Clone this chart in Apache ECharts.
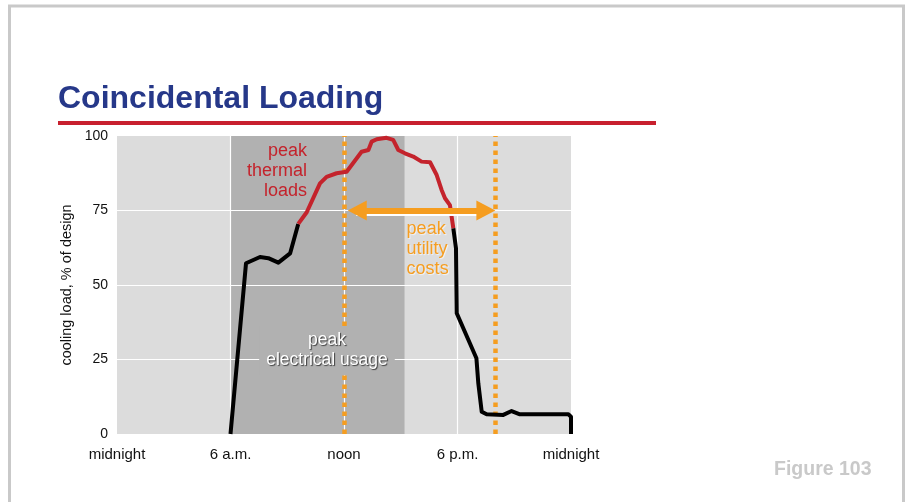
<!DOCTYPE html>
<html>
<head>
<meta charset="utf-8">
<script src="https://cdn.jsdelivr.net/npm/echarts@6/dist/echarts.min.js"></script>
<style>
  html, body { margin: 0; padding: 0; background: #ffffff; }
  #chart { width: 908px; height: 502px; }
</style>
</head>
<body>
<div id="chart"></div>
<script>
// Hour-of-day axis ticks and their labels
const hourTicks = [0, 6, 12, 18, 24];
const hourLabels = ['midnight', '6 a.m.', 'noon', '6 p.m.', 'midnight'];
// Cooling-load axis ticks (% of design)
const loadTicks = [0, 25, 50, 75, 100];

// Cooling load through the day, [hour, % of design]
const morningRise = [
  [6.0, 0], [6.82, 57.3], [7.56, 59.4], [8.0, 59.0], [8.53, 57.5],
  [9.15, 60.6], [9.58, 70.5]
];
const thermalPeak = [
  [9.58, 70.5], [10.03, 74.4], [10.73, 84.1], [11.08, 86.3], [11.61, 87.5],
  [12.14, 88.0], [12.93, 94.7], [13.29, 95.3], [13.46, 98.1], [13.73, 98.9],
  [14.25, 99.4], [14.6, 98.7], [14.87, 95.3], [15.22, 94.2], [15.66, 93.1],
  [16.1, 91.4], [16.55, 91.2], [16.9, 86.9], [17.16, 81.9], [17.34, 79.1],
  [17.6, 76.8], [17.78, 69.0]
];
const eveningFall = [
  [17.78, 69.0], [17.92, 62.3], [17.96, 40.5], [19.0, 25.4], [19.1, 17.0],
  [19.28, 7.5], [19.54, 6.6], [20.42, 6.4], [20.86, 7.7], [21.3, 6.6],
  [23.86, 6.6], [24.0, 5.8], [24.0, 0]
];

// Time windows
const electricalPeakHours = [6, 15.2];
const utilityPeakHours = [12, 20];
const utilityArrowLevel = 75;

const FONT = '"Liberation Sans", Arial, Helvetica, sans-serif';
const ORANGE = '#f59d20';
const RED = '#c4232c';

// inner grid lines (drawn above the shaded windows)
const innerHourTicks = hourTicks.slice(1, -1);
const innerLoadTicks = loadTicks.slice(1, -1);

const chart = echarts.init(document.getElementById('chart'), null, { renderer: 'canvas' });

chart.setOption({
  animation: false,
  backgroundColor: '#ffffff',
  title: [
    {
      text: 'Coincidental Loading',
      left: 53,
      top: 78,
      textStyle: { fontFamily: FONT, fontSize: 32, fontWeight: 'bold', color: '#263889' }
    },
    {
      text: 'Figure 103',
      left: 769,
      top: 455,
      textStyle: { fontFamily: FONT, fontSize: 19.5, fontWeight: 'bold', color: '#c9c9c9' }
    }
  ],
  graphic: [
    {
      type: 'rect',
      shape: { x: 9.5, y: 6, width: 894, height: 520 },
      style: { fill: 'none', stroke: '#c9c9c9', lineWidth: 3 },
      silent: true
    },
    {
      type: 'rect',
      shape: { x: 58, y: 121, width: 598, height: 4 },
      style: { fill: '#c8202e' },
      silent: true
    }
  ],
  grid: { left: 117, right: 337, top: 136, bottom: 68, containLabel: false },
  xAxis: {
    type: 'value',
    min: hourTicks[0],
    max: hourTicks[hourTicks.length - 1],
    interval: 6,
    axisLine: { show: false },
    axisTick: { show: false },
    splitLine: { show: false },
    axisLabel: {
      margin: 13,
      fontFamily: FONT,
      fontSize: 15,
      color: '#111111',
      formatter: v => hourLabels[hourTicks.indexOf(v)] || ''
    }
  },
  yAxis: {
    type: 'value',
    min: loadTicks[0],
    max: loadTicks[loadTicks.length - 1],
    interval: 25,
    name: 'cooling load, % of design',
    nameLocation: 'middle',
    nameGap: 43,
    nameTextStyle: { fontFamily: FONT, fontSize: 14.5, color: '#111111' },
    axisLine: { show: false },
    axisTick: { show: false },
    splitLine: { show: false },
    axisLabel: {
      margin: 9,
      fontFamily: FONT,
      fontSize: 14,
      color: '#111111',
      formatter: v => (loadTicks.indexOf(v) >= 0 ? String(v) : '')
    }
  },
  series: [
    {
      // plot backdrop and the peak-electrical-usage window
      name: 'windows',
      type: 'line',
      data: [],
      z: 0,
      silent: true,
      markArea: {
        z: 0,
        silent: true,
        label: { show: false },
        data: [
          [{ xAxis: hourTicks[0], itemStyle: { color: '#dcdcdc' } }, { xAxis: hourTicks[hourTicks.length - 1] }],
          [{ xAxis: electricalPeakHours[0], itemStyle: { color: '#b1b1b1' } }, { xAxis: electricalPeakHours[1] }]
        ]
      }
    },
    {
      // white grid lines
      name: 'grid lines',
      type: 'line',
      data: [],
      z: 1,
      silent: true,
      markLine: {
        z: 1,
        silent: true,
        symbol: ['none', 'none'],
        label: { show: false },
        lineStyle: { color: '#ffffff', width: 1.2, type: 'solid' },
        data: innerHourTicks.map(h => ({ xAxis: h }))
          .concat(innerLoadTicks.map(v => ({ yAxis: v })))
      }
    },
    {
      // dotted bounds of the peak utility cost window
      name: 'utility window',
      type: 'line',
      data: [],
      z: 2,
      silent: true,
      markLine: {
        z: 2,
        silent: true,
        symbol: ['none', 'none'],
        label: { show: false },
        lineStyle: { color: ORANGE, width: 4.5, type: [4.5, 4.5], cap: 'butt' },
        data: utilityPeakHours.map(h => ({ xAxis: h }))
      }
    },
    {
      name: 'load before peak',
      type: 'line',
      data: morningRise,
      z: 4,
      symbol: 'none',
      lineStyle: { color: '#000000', width: 4, join: 'round' }
    },
    {
      name: 'peak thermal load',
      type: 'line',
      data: thermalPeak,
      z: 4,
      symbol: 'none',
      lineStyle: { color: RED, width: 4, join: 'round' }
    },
    {
      name: 'load after peak',
      type: 'line',
      data: eveningFall,
      z: 4,
      symbol: 'none',
      lineStyle: { color: '#000000', width: 4, join: 'round' }
    },
    {
      // double-headed arrow spanning the utility cost window
      name: 'utility arrow',
      type: 'line',
      data: [],
      z: 5,
      silent: true,
      markLine: {
        z: 5,
        silent: true,
        symbol: ['triangle', 'triangle'],
        symbolSize: [20, 19],
        label: { show: false },
        lineStyle: {
          color: ORANGE, width: 6, type: 'solid', cap: 'butt',
          shadowColor: '#ffffff', shadowBlur: 0, shadowOffsetX: -1, shadowOffsetY: 2
        },
        data: [[
          { coord: [utilityPeakHours[0] + 0.7, utilityArrowLevel] },
          { coord: [utilityPeakHours[1] - 0.5, utilityArrowLevel] }
        ]]
      }
    },
    {
      // annotations
      name: 'notes',
      type: 'line',
      data: [],
      z: 6,
      silent: true,
      markPoint: {
        z: 6,
        silent: true,
        symbol: 'circle',
        symbolSize: 0,
        data: [
          {
            coord: [10.04, 88.3],
            label: {
              show: true, position: 'inside', align: 'right', verticalAlign: 'middle',
              formatter: 'peak\nthermal\nloads',
              fontFamily: FONT, fontSize: 18, lineHeight: 20, color: RED
            }
          },
          {
            coord: [15.31, 62.1],
            label: {
              show: true, position: 'inside', align: 'left', verticalAlign: 'middle',
              formatter: 'peak\nutility\ncosts',
              fontFamily: FONT, fontSize: 18, lineHeight: 20, color: ORANGE,
              textShadowColor: 'rgba(255,255,255,0.7)', textShadowBlur: 1, textShadowOffsetX: 1, textShadowOffsetY: 1
            }
          },
          {
            coord: [11.1, 28.0],
            label: {
              show: true, position: 'inside', align: 'center', verticalAlign: 'middle',
              formatter: 'peak\nelectrical usage',
              fontFamily: FONT, fontSize: 17.5, lineHeight: 20, color: '#ffffff',
              textShadowColor: 'rgba(40,40,40,0.85)', textShadowBlur: 1, textShadowOffsetX: 1, textShadowOffsetY: 1,
              backgroundColor: '#b1b1b1', padding: [5, 7, 4, 7]
            }
          }
        ]
      }
    }
  ]
});
</script>
</body>
</html>
